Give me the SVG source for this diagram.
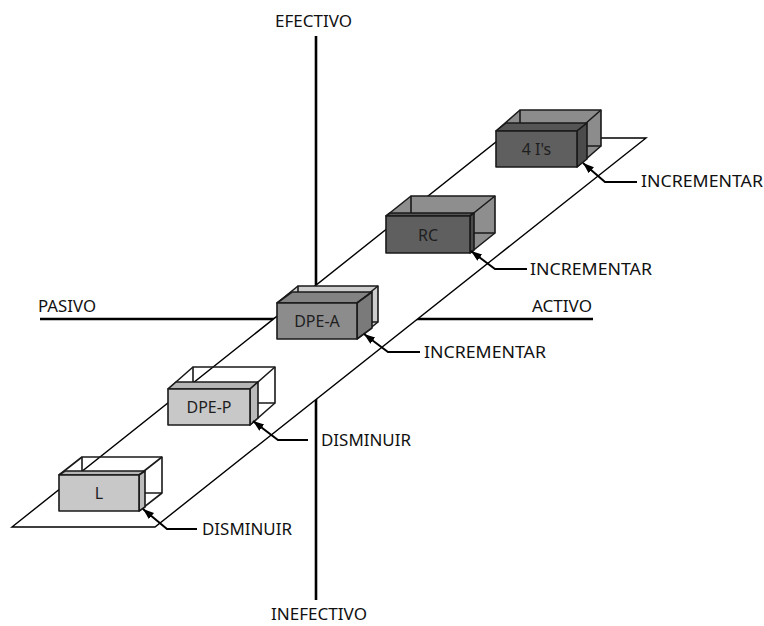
<svg xmlns="http://www.w3.org/2000/svg" width="764" height="626" viewBox="0 0 764 626">
<defs>
<style>
.axis{stroke:#000;stroke-width:2.6;fill:none}
.plane{fill:#fff;stroke:#000;stroke-width:1.4}
.e{stroke:#1a1a1a;stroke-width:1.6;fill:none;stroke-linejoin:round}
.f{stroke:#1a1a1a;stroke-width:1.6;stroke-linejoin:round}
.lbl{font-family:"Noto Sans","Open Sans",sans-serif;font-size:16px;fill:#111}
.bt{font-family:"Noto Sans","Open Sans",sans-serif;font-size:16px;fill:#1e1e1e;text-anchor:middle}
.lead{stroke:#000;stroke-width:2;fill:none}
</style>
<marker id="ah" markerUnits="userSpaceOnUse" markerWidth="12" markerHeight="9" refX="11" refY="4" orient="auto">
<path d="M0,0 L11,4 L0,8 z" fill="#000"/>
</marker>
</defs>

<g id="axes">
<line class="axis" x1="316" y1="36" x2="316" y2="600"/>
<line class="axis" x1="40" y1="319" x2="593" y2="319"/>
</g>

<g id="plane">
<polygon class="plane" points="12,527 155,527 646,138 501,138"/>
</g>

<g id="box-4is" transform="translate(496,131)">
<polygon points="0,0 24,-21 105,-21 105,15 81,36 0,36" fill="#8c8c8c"/>
<rect class="e" x="24" y="-21" width="81" height="36"/>
<path class="e" d="M0,0 L24,-21 M81,0 L105,-21 M81,36 L105,15"/>
<polygon class="f" points="0,0 10,-8 91,-8 81,0" fill="#555"/>
<polygon class="f" points="81,0 91,-8 91,28 81,36" fill="#4b4b4b"/>
<rect class="f" x="0" y="0" width="81" height="36" fill="#5f5f5f"/>
<text class="bt" x="40.5" y="24">4 I's</text>
</g>

<g id="box-rc" transform="translate(386,216)">
<polygon points="0,0 25,-20 109,-20 109,17 84,37 0,37" fill="#8e8e8e"/>
<rect class="e" x="25" y="-20" width="84" height="37"/>
<path class="e" d="M0,0 L25,-20 M84,0 L109,-20 M84,37 L109,17"/>
<polygon class="f" points="0,0 4,-3 88,-3 84,0" fill="#555"/>
<polygon class="f" points="84,0 88,-3 88,34 84,37" fill="#4b4b4b"/>
<rect class="f" x="0" y="0" width="84" height="37" fill="#5f5f5f"/>
<text class="bt" x="42" y="25">RC</text>
</g>

<g id="box-dpea" transform="translate(277,303)">
<polygon points="0,0 21,-17 101,-17 101,19 80,36 0,36" fill="#cdcdcd"/>
<rect class="e" x="21" y="-17" width="80" height="36"/>
<path class="e" d="M0,0 L21,-17 M80,0 L101,-17 M80,36 L101,19"/>
<polygon class="f" points="0,0 15,-11 95,-11 80,0" fill="#838383"/>
<polygon class="f" points="80,0 95,-11 95,25 80,36" fill="#7a7a7a"/>
<rect class="f" x="0" y="0" width="80" height="36" fill="#8c8c8c"/>
<text class="bt" x="40" y="24">DPE-A</text>
</g>

<g id="box-dpep" transform="translate(168,389)">
<rect class="e" x="25" y="-22" width="82" height="36"/>
<path class="e" d="M0,0 L25,-22 M82,0 L107,-22 M82,36 L107,14"/>
<polygon class="f" points="0,0 8,-7 90,-7 82,0" fill="#b6b6b6"/>
<polygon class="f" points="82,0 90,-7 90,29 82,36" fill="#bababa"/>
<rect class="f" x="0" y="0" width="82" height="36" fill="#c8c8c8"/>
<text class="bt" x="41" y="24">DPE-P</text>
</g>

<g id="box-l" transform="translate(59,475)">
<rect class="e" x="23" y="-18" width="80" height="36"/>
<path class="e" d="M0,0 L23,-18 M80,0 L103,-18 M80,36 L103,18"/>
<polygon class="f" points="0,0 6,-4 86,-4 80,0" fill="#b6b6b6"/>
<polygon class="f" points="80,0 86,-4 86,32 80,36" fill="#bcbcbc"/>
<rect class="f" x="0" y="0" width="80" height="36" fill="#c8c8c8"/>
<text class="bt" x="40" y="24">L</text>
</g>

<g id="connectors">
<path class="lead" d="M637,182 H605 L583,163" marker-end="url(#ah)"/>
<path class="lead" d="M527,269 H495 L471,251" marker-end="url(#ah)"/>
<path class="lead" d="M420,352 H388 L364,334" marker-end="url(#ah)"/>
<path class="lead" d="M308,440 H278 L253,421" marker-end="url(#ah)"/>
<path class="lead" d="M197,529 H167 L143,509" marker-end="url(#ah)"/>
</g>

<g id="labels">
<text class="lbl" x="275" y="27" textLength="77" lengthAdjust="spacingAndGlyphs">EFECTIVO</text>
<text class="lbl" x="271" y="620" textLength="96" lengthAdjust="spacingAndGlyphs">INEFECTIVO</text>
<text class="lbl" x="38" y="312" textLength="58" lengthAdjust="spacingAndGlyphs">PASIVO</text>
<text class="lbl" x="532" y="312" textLength="60" lengthAdjust="spacingAndGlyphs">ACTIVO</text>
<text class="lbl" x="641" y="187" textLength="122" lengthAdjust="spacingAndGlyphs">INCREMENTAR</text>
<text class="lbl" x="530" y="275" textLength="122" lengthAdjust="spacingAndGlyphs">INCREMENTAR</text>
<text class="lbl" x="424" y="358" textLength="122" lengthAdjust="spacingAndGlyphs">INCREMENTAR</text>
<text class="lbl" x="321" y="446" textLength="90" lengthAdjust="spacingAndGlyphs">DISMINUIR</text>
<text class="lbl" x="202" y="535" textLength="90" lengthAdjust="spacingAndGlyphs">DISMINUIR</text>
</g>
</svg>
